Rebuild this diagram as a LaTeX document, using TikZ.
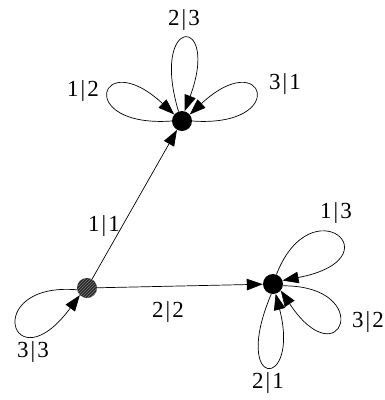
\documentclass[tikz,border=0pt]{standalone}
\usepackage{fontspec}
\setmainfont{Liberation Serif}
\usetikzlibrary{arrows.meta,patterns}
\newcommand{\lb}[2]{#1\kern2pt|\kern2pt#2}
\begin{document}
\begin{tikzpicture}[x=1pt,y=-1pt,
  vtx/.style={circle,fill=black,inner sep=0pt,minimum size=20pt},
  hvtx/.style={circle,fill=black!85,inner sep=0pt,minimum size=20pt,postaction={pattern=north east lines,pattern color=gray}},
  edge/.style={line width=0.7pt,-{Triangle[length=16pt,width=11.5pt]}},
  lbl/.style={inner sep=0pt,font=\fontsize{23}{25}\selectfont}]
\useasboundingbox (0,0) rectangle (385,400);
\node[vtx] (A) at (182,121) {};
\node[hvtx] (B) at (87,288) {};
\node[vtx] (C) at (273,284) {};
% edges
\draw[edge] (B) -- (A);
\draw[edge] (B) -- (C);
% loops on A
\draw[edge] (A.180) .. controls +(-98,7) and +(-75,-70) .. (A.140);
\draw[edge] (A.110) .. controls +(-29,-97) and +(36,-97) .. (A.75);
\draw[edge] (A.0) .. controls +(98,7) and +(75,-70) .. (A.40);
% loop on B
\draw[edge] (B.190) .. controls +(-97,-8) and +(-68,92) .. (B.225);
% loops on C
\draw[edge] (C.70) .. controls +(35,-90) and +(115,-22) .. (C.20);
\draw[edge] (C.-10) .. controls +(93,0) and +(60,90) .. (C.-40);
\draw[edge] (C.-100) .. controls +(-41,97) and +(25,97) .. (C.-75);
% labels
\node[lbl] (l12) at (83,91) {\lb12};
\node[lbl] (l23) at (184,20) {\lb23};
\node[lbl] (l31) at (285,84) {\lb31};
\node[lbl] (l11) at (104,226) {\lb11};
\node[lbl] (l22) at (168,312) {\lb22};
\node[lbl] (l33) at (33,352) {\lb33};
\node[lbl] (l13) at (336,213) {\lb13};
\node[lbl] (l32) at (368,322) {\lb32};
\node[lbl] (l21) at (268,383) {\lb21};
\end{tikzpicture}
\end{document}
